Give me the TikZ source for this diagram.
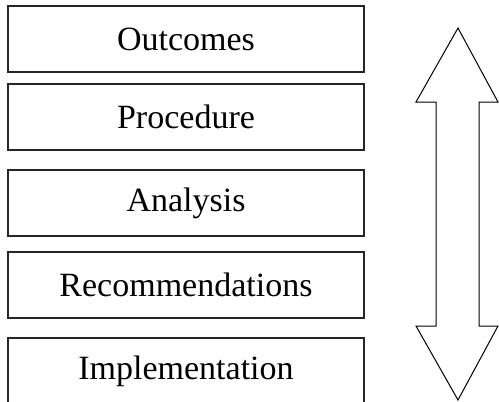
\documentclass[tikz,border=0pt]{standalone}
\usepackage{fontspec}
\setmainfont{Liberation Serif}
\begin{document}
\begin{tikzpicture}[x=1pt,y=-1pt,
  stage/.style={draw=black!85, line width=1.4pt, fill=white,
    minimum width=356pt, minimum height=66pt, inner sep=0pt,
    font=\fontsize{34}{40}\selectfont},
  updown/.style={draw=black, line width=1pt, fill=white, line join=miter}]
\useasboundingbox (0,0) rectangle (499,402);
\clip (0,0) rectangle (499,402);
% stacked stages
\node[stage] (outcomes) at (186,39) {Outcomes};
\node[stage] (procedure) at (186,117) {Procedure};
\node[stage] (analysis) at (186,203) {Analysis};
\node[stage] (recommend) at (186,285) {Recommendations};
\node[stage] (implement) at (186,371) {Implementation};
% two-headed vertical arrow
\draw[updown] (458,28) -- (498,102) -- (479,102) -- (479,326) -- (498,326)
  -- (458,400) -- (416,326) -- (436,326) -- (436,102) -- (416,102) -- cycle;
\end{tikzpicture}
\end{document}
